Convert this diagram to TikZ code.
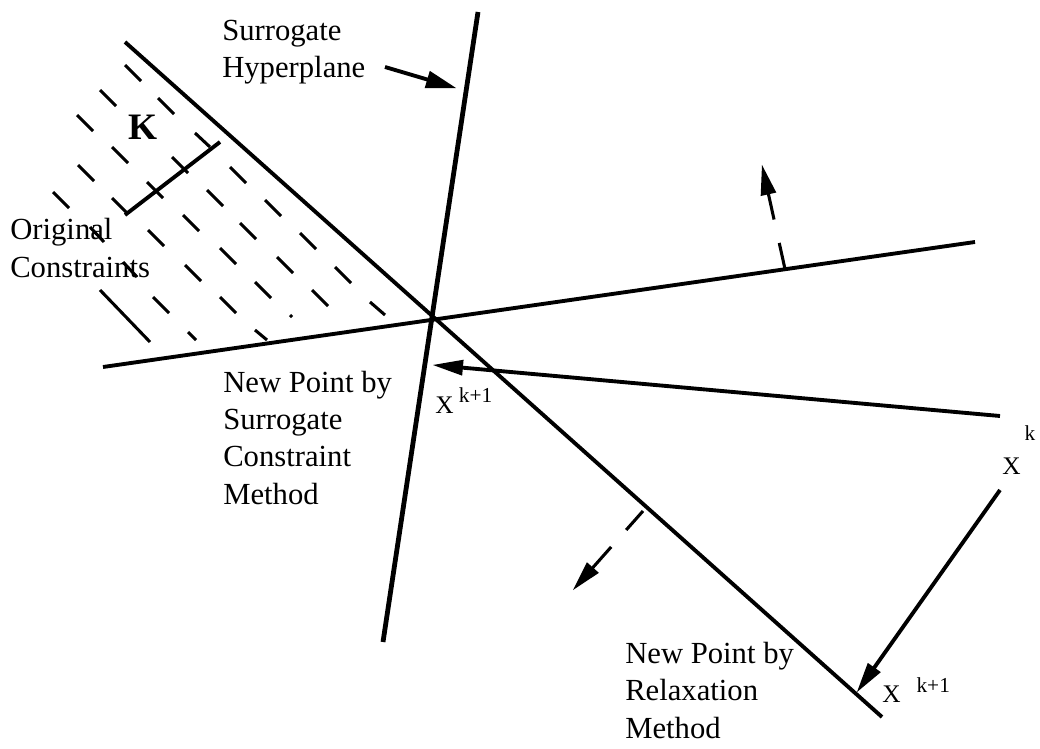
\documentclass[tikz,border=0pt]{standalone}
\usepackage{fontspec}
\setmainfont{Liberation Serif}
\usetikzlibrary{calc}
\begin{document}
\begin{tikzpicture}[x=0.75pt,y=0.75pt,yscale=-1,xscale=1,
  lbl/.style={anchor=base west, inner sep=0pt, align=left, font=\fontsize{23}{28}\selectfont},
  pnt/.style={anchor=base west, inner sep=0pt, font=\fontsize{19}{19}\selectfont},
  hatch/.style={line width=2.3pt},
  thick line/.style={line width=2.9pt},
  dash arrow/.style={line width=2.3pt},
  head/.style={fill=black, draw=none}]
\useasboundingbox (0,0) rectangle (1040,749);

%Points
\coordinate (cA) at (125,42);   \coordinate (cB) at (882,717);
\coordinate (dA) at (103,367);  \coordinate (dB) at (975,242);
\coordinate (sA) at (478,12);   \coordinate (sB) at (383,642);
\coordinate (xk) at (1000,416); \coordinate (xkS) at (433,365);
\coordinate (xk2) at (1000,490); \coordinate (xkR) at (857,692);
\coordinate (hA) at (385,67);   \coordinate (hB) at (456,88);
\coordinate (nA0) at (785,269); \coordinate (nA) at (762,165);
\coordinate (nB0) at (643,511); \coordinate (nB) at (573,590);
\coordinate (kA) at (125,215);  \coordinate (kB) at (220,142);

% Text Node
\draw (222,78) node (lblHyp) [lbl] {Surrogate\\Hyperplane};
% Text Node
\draw (10,277) node (lblOrig) [lbl] {Original\\Constraints};
% Text Node
\draw (223,504) node (lblSurr) [lbl] {New Point by\\Surrogate\\Constraint\\Method};
% Text Node
\draw (625,738) node (lblRelax) [lbl] {New Point by\\Relaxation\\Method};
% Text Node
\draw (128,140) node (lblK) [anchor=base west, inner sep=0pt, font=\fontsize{28}{28}\selectfont\bfseries] {K};
% Text Node
\draw (435,413) node (ptS) [pnt] {X\hspace{4pt}\raisebox{8pt}{\fontsize{16}{16}\selectfont k+1}};
% Text Node
\draw (882,702) node (ptR) [pnt] {X\hspace{12pt}\raisebox{7.5pt}{\fontsize{16}{16}\selectfont k+1}};
% Text Node
\draw (1002,474) node (ptK) [pnt] {X\hspace{3pt}\raisebox{25pt}{\fontsize{16}{16}\selectfont k}};

%Straight Lines
\draw [thick line] (cA) -- (cB);
\draw [thick line] (dA) -- (dB);
\draw [line width=3.6pt] (sA) -- (sB);
\draw [thick line] (kA) -- (kB);

%Hatching
\draw [hatch] (125,65) -- ++(16,16) (158,98) -- ++(16,16) (195,133) -- ++(15,14) (230,167) -- ++(16,16)
  (265,200) -- ++(16,16) (300,233) -- ++(16,16) (335,267) -- ++(16,16) (370,302) -- ++(15,13);
\draw [hatch] (100,90) -- ++(16,16) (172,157) -- ++(16,16) (207,190) -- ++(16,16) (240,223) -- ++(16,16)
  (277,257) -- ++(16,16) (312,290) -- ++(16,16);
\draw [hatch] (77,115) -- ++(16,16) (112,147) -- ++(16,16) (147,182) -- ++(16,16) (183,215) -- ++(16,16)
  (220,248) -- ++(16,16) (255,282) -- ++(16,16) (290,315) -- ++(2,2);
\draw [hatch] (78,165) -- ++(16,16) (112,198) -- ++(16,16) (148,230) -- ++(16,16) (185,265) -- ++(16,16)
  (220,297) -- ++(16,16) (255,330) -- ++(12,10);
\draw [hatch] (53,192) -- ++(16,16) (90,227) -- ++(14,15) (123,262) -- ++(14,15) (153,297) -- ++(16,16)
  (188,332) -- ++(8,8);
\draw [hatch] (100,290) -- (150,342);

%Arrows
\draw [thick line] (xk) -- ($(xkS)!21pt!(xk)$);
\draw [head, shift={(xkS)}, rotate=5.14] (0,0) -- (30,-8) -- (30,8) -- cycle;
\draw [thick line] (xk2) -- ($(xkR)!21pt!(xk2)$);
\draw [head, shift={(xkR)}, rotate=-54.7] (0,0) -- (30,-8) -- (30,8) -- cycle;
\draw [thick line] (hA) -- ($(hB)!21pt!(hA)$);
\draw [head, shift={(hB)}, rotate=196.5] (0,0) -- (30,-9) -- (30,9) -- cycle;
\draw [dash arrow, dash pattern=on 20pt off 18pt on 60pt] (nA0) -- ($(nA)!21pt!(nA0)$);
\draw [head, shift={(nA)}, rotate=77.5] (0,0) -- (30,-8) -- (30,8) -- cycle;
\draw [dash arrow, dash pattern=on 19pt off 17pt on 60pt] (nB0) -- ($(nB)!21pt!(nB0)$);
\draw [head, shift={(nB)}, rotate=-48.45] (0,0) -- (30,-8) -- (30,8) -- cycle;

\end{tikzpicture}
\end{document}
